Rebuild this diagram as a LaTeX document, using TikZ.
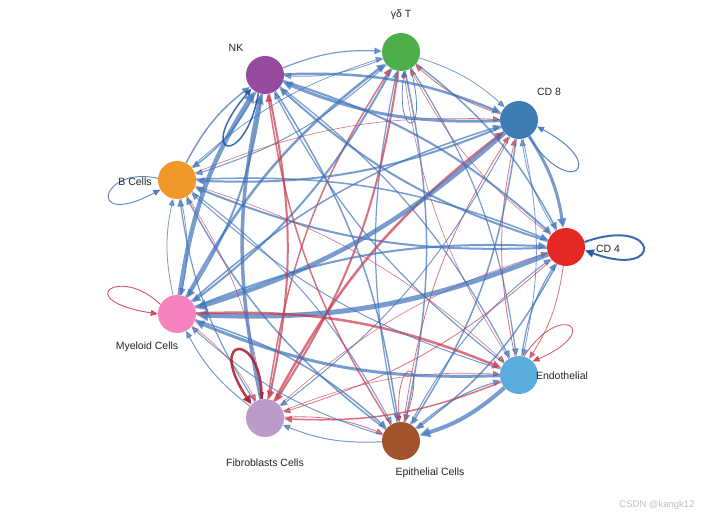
\documentclass[tikz,border=0pt]{standalone}
\usepackage{fontspec}
\setmainfont{Liberation Sans}
\usetikzlibrary{arrows.meta,backgrounds}
\definecolor{eb}{RGB}{62,114,185}
\definecolor{er}{RGB}{200,55,75}
\definecolor{lb}{RGB}{25,80,165}
\definecolor{lr}{RGB}{170,25,40}
\definecolor{cG}{RGB}{77,175,74}
\definecolor{cC8}{RGB}{62,124,182}
\definecolor{cC4}{RGB}{228,40,38}
\definecolor{cEn}{RGB}{90,172,222}
\definecolor{cEp}{RGB}{162,84,44}
\definecolor{cFi}{RGB}{187,155,202}
\definecolor{cMy}{RGB}{246,130,190}
\definecolor{cB}{RGB}{240,152,42}
\definecolor{cNK}{RGB}{150,75,160}
\begin{document}
\begin{tikzpicture}[x=1pt,y=-1pt,
  cell/.style={circle, minimum size=38pt, inner sep=0pt, draw=none},
  lab/.style={font=\fontsize{10.5}{12}\selectfont, text=black!85},
  loopline/.style={opacity=0.85}]
\useasboundingbox (0,0) rectangle (720,518);
\node[cell, fill=cG]  (G)  at (401,52)  {};
\node[cell, fill=cC8] (C8) at (519,120) {};
\node[cell, fill=cC4] (C4) at (566,247) {};
\node[cell, fill=cEn] (En) at (519,375) {};
\node[cell, fill=cEp] (Ep) at (401,441) {};
\node[cell, fill=cFi] (Fi) at (265,418) {};
\node[cell, fill=cMy] (My) at (177,314) {};
\node[cell, fill=cB]  (B)  at (177,180) {};
\node[cell, fill=cNK] (NK) at (265,75)  {};
\begin{pgfonlayer}{background}
\fill[white] (0,0) rectangle (720,518);
\foreach \s/\t/\c/\w in {
 G/C8/eb/0.8, C8/G/er/0.8, G/C4/eb/1.5, C4/G/er/0.6, G/En/eb/1.2, En/G/er/0.6,
 G/Ep/eb/1.5, Ep/G/eb/1.2, G/Fi/er/2, Fi/G/er/1.5, G/My/eb/2, My/G/eb/2.5,
 G/B/eb/1, B/G/eb/0.8, G/NK/eb/0.8, NK/G/eb/1.2,
 C8/C4/eb/3, C4/C8/eb/0.8, C8/En/eb/0.8, En/C8/er/0.8, C8/Ep/eb/1.5, Ep/C8/er/0.8,
 C8/Fi/eb/1, Fi/C8/er/2.5, C8/My/eb/4.5, My/C8/eb/1.5, C8/B/eb/2, B/C8/er/0.6,
 C8/NK/eb/3, NK/C8/eb/2.5,
 C4/En/er/0.8, En/C4/eb/1.2, C4/Ep/eb/1.5, Ep/C4/eb/1, C4/Fi/er/0.8, Fi/C4/er/0.6,
 C4/My/eb/5, My/C4/eb/2, C4/B/eb/2, B/C4/eb/1.5, C4/NK/eb/2, NK/C4/eb/2,
 En/Ep/eb/4, Ep/En/eb/1.2, En/Fi/er/1.5, Fi/En/er/0.6, En/My/eb/3, My/En/er/2.5,
 En/B/eb/1, B/En/er/0.6, En/NK/eb/1.2, NK/En/eb/1.2,
 Ep/Fi/eb/1, Fi/Ep/er/0.8, Ep/My/eb/1, My/Ep/eb/1.5, Ep/B/eb/1.5, B/Ep/eb/1,
 Ep/NK/er/1.5, NK/Ep/eb/1.5,
 Fi/My/eb/1, My/Fi/er/0.6, Fi/B/eb/1.2, B/Fi/er/0.6, Fi/NK/eb/3.5, NK/Fi/er/2,
 My/B/eb/0.8, B/My/eb/0.8, My/NK/eb/4.5, NK/My/eb/2,
 B/NK/eb/1.5, NK/B/eb/1.5}{
  \pgfmathsetmacro{\al}{6+1.2*\w}
  \pgfmathsetmacro{\aw}{5+1.2*\w}
  \draw[draw=\c, opacity=0.7, line width=\w pt,
        -{Triangle[length=\al pt, width=\aw pt, fill=\c]}] (\s) to[bend left=12] (\t);
}
% loops
\draw[draw=lb, line width=1.5pt, loopline, -{Triangle[length=7pt,width=6pt]}]
  (NK.250) .. controls (245,170) and (193,157) .. (NK.225);
\draw[draw=eb, line width=0.9pt, loopline, -{Triangle[length=7pt,width=6pt]}]
  (B.175) .. controls (100,165) and (85,230) .. (B.210);
\draw[draw=er, line width=0.9pt, loopline, -{Triangle[length=7pt,width=6pt]}]
  (My.150) .. controls (120,265) and (70,300) .. (My.180);
\draw[draw=lr, line width=2.5pt, loopline, -{Triangle[length=9pt,width=8pt]}]
  (Fi.100) .. controls (262,330) and (205,335) .. (Fi.135);
\draw[draw=er, line width=0.7pt, loopline, -{Triangle[length=6pt,width=5pt]}]
  (Ep.80) .. controls (430,355) and (395,355) .. (Ep.95);
\draw[draw=er, line width=0.8pt, loopline, -{Triangle[length=7pt,width=6pt]}]
  (En.75) .. controls (560,300) and (605,330) .. (En.45);
\draw[draw=lb, line width=2pt, loopline, -{Triangle[length=9pt,width=8pt]}]
  (C4.15) .. controls (660,215) and (665,280) .. (C4.-10);
\draw[draw=eb, line width=1pt, loopline, -{Triangle[length=7pt,width=6pt]}]
  (C8.-60) .. controls (570,200) and (610,165) .. (C8.-20);
\draw[draw=eb, line width=0.8pt, loopline, -{Triangle[length=6pt,width=5pt]}]
  (G.-60) .. controls (430,140) and (395,140) .. (G.-80);
\end{pgfonlayer}
\node[lab] (tG)  at (401,15)  {γδ T};
\node[lab] (tNK) at (236,48)  {NK};
\node[lab] (tC8) at (549,92)  {CD 8};
\node[lab] (tB)  at (135,182) {B Cells};
\node[lab] (tC4) at (608,249) {CD 4};
\node[lab] (tEn) at (562,376) {Endothelial};
\node[lab] (tEp) at (430,473) {Epithelial Cells};
\node[lab] (tFi) at (265,463) {Fibroblasts Cells};
\node[lab] (tMy) at (147,347) {Myeloid Cells};
\node[font=\fontsize{9.5}{11}\selectfont, text=black!25] (wm) at (657,505) {CSDN @kangk12};
\end{tikzpicture}
\end{document}
